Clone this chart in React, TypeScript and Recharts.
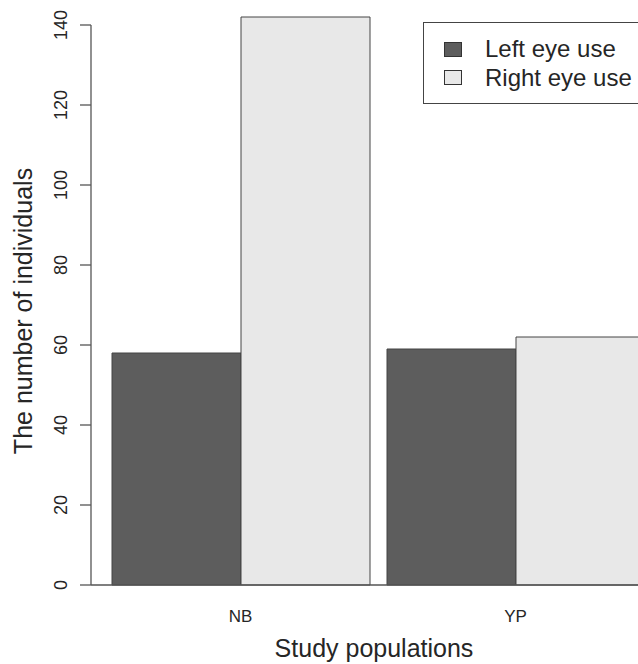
import React from 'react';
import { Bar, BarChart, Legend, XAxis, YAxis } from 'recharts';

const populations = ['NB', 'YP'];
const leftEyeUse = [58, 59];
const rightEyeUse = [142, 62];
const yTicks = [0, 20, 40, 60, 80, 100, 120, 140];
const yMax = 145;

const data = populations.map((p, i) => ({ population: p, left: leftEyeUse[i], right: rightEyeUse[i] }));

const W = 680;
const H = 664;
const TOP = 5;
const AXIS_W = 91;
const X_AXIS_H = 79;
const PLOT_H = H - TOP - X_AXIS_H;
const INK = '#262626';
const LINE = '#555';
const FONT = '"Liberation Sans", Arial, sans-serif';

function YTick(props: any) {
  const { y, payload } = props;
  const v = payload.value as number;
  const tx = 67;
  const axisTop = y - (yTicks[yTicks.length - 1] / yMax) * PLOT_H;
  return (
    <g>
      <line x1={AXIS_W - 11} x2={AXIS_W} y1={y} y2={y} stroke={LINE} strokeWidth={1.3} />
      {v === 0 && <line x1={AXIS_W} x2={AXIS_W} y1={y} y2={axisTop} stroke={LINE} strokeWidth={1.3} />}
      <text x={tx} y={y} transform={`rotate(-90 ${tx} ${y})`} textAnchor="middle" fontSize={18} fill={INK} fontFamily={FONT}>
        {v}
      </text>
    </g>
  );
}

function XTick(props: any) {
  const { x, payload } = props;
  return (
    <text x={x} y={TOP + PLOT_H + 37} textAnchor="middle" fontSize={17} fill={INK} fontFamily={FONT}>
      {payload.value}
    </text>
  );
}

function XTitle(props: any) {
  const { viewBox } = props;
  return (
    <text x={374} y={viewBox.y + 72} textAnchor="middle" fontSize={25} fill={INK} fontFamily={FONT}>
      Study populations
    </text>
  );
}

function YTitle() {
  const x = 32;
  const y = 311;
  return (
    <text x={x} y={y} transform={`rotate(-90 ${x} ${y})`} textAnchor="middle" fontSize={25} fill={INK} fontFamily={FONT}>
      The number of individuals
    </text>
  );
}

function LegendBox(props: any) {
  const { payload } = props;
  return (
    <div style={{ border: `1.5px solid #444`, width: 240, height: 82, boxSizing: 'border-box', paddingTop: 12, background: '#fff' }}>
      {(payload || []).map((e: any) => (
        <div key={e.value} style={{ display: 'flex', alignItems: 'center', height: 28.6, fontFamily: FONT, fontSize: 24, color: INK }}>
          <span style={{ display: 'inline-block', width: 16, height: 13, background: e.color, border: '1px solid #333', marginLeft: 20, marginRight: 23 }} />
          <span style={{ lineHeight: '28.6px' }}>{e.value}</span>
        </div>
      ))}
    </div>
  );
}

export default function App() {
  return (
    <div style={{ position: 'absolute', left: 0, top: 0, width: 638, height: 664, overflow: 'hidden', background: '#fff' }}>
      <BarChart width={W} height={H} data={data} margin={{ top: TOP, right: 27, bottom: 0, left: 0 }} barGap={0} barCategoryGap={9}>
        <XAxis
          dataKey="population"
          height={X_AXIS_H}
          padding={{ left: 12, right: 0 }}
          tickLine={false}
          axisLine={{ stroke: LINE, strokeWidth: 1.3 }}
          tick={<XTick />}
          label={<XTitle />}
        />
        <YAxis
          width={AXIS_W}
          domain={[0, yMax]}
          ticks={yTicks}
          axisLine={false}
          tickLine={false}
          tick={<YTick />}
          label={<YTitle />}
        />
        <Legend
          layout="horizontal"
          align="center"
          verticalAlign="middle"
          wrapperStyle={{ left: 423, top: 22, width: 240, height: 82 }}
          content={<LegendBox />}
        />
        <Bar dataKey="left" name="Left eye use" fill="#5d5d5d" stroke="#444" strokeWidth={1} isAnimationActive={false} />
        <Bar dataKey="right" name="Right eye use" fill="#e8e8e8" stroke="#444" strokeWidth={1} isAnimationActive={false} />
      </BarChart>
    </div>
  );
}
